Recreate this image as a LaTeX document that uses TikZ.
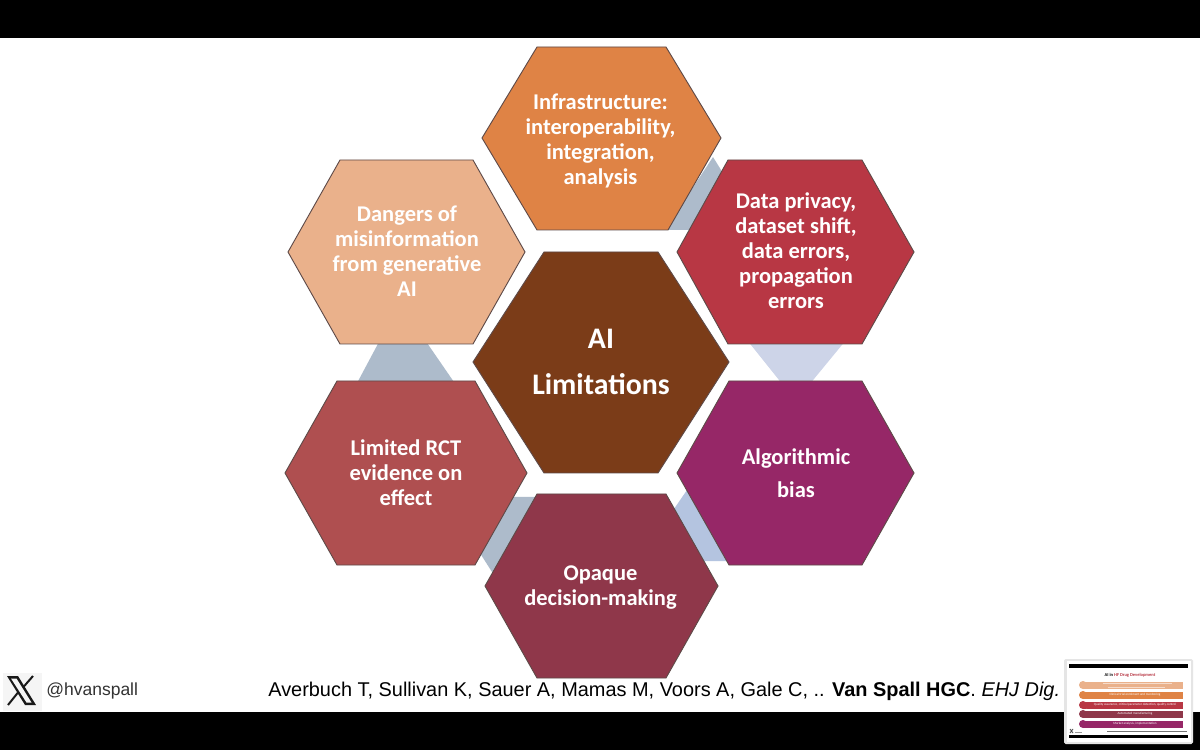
\documentclass[tikz,border=0pt]{standalone}
\usepackage{fontspec}
\setmainfont{Carlito}
\newfontfamily\arialf{Liberation Sans}
\definecolor{cCenter}{HTML}{7B3C18}
\definecolor{cTop}{HTML}{DF8345}
\definecolor{cRU}{HTML}{B83744}
\definecolor{cRL}{HTML}{962767}
\definecolor{cBot}{HTML}{8F374A}
\definecolor{cLL}{HTML}{AF4F50}
\definecolor{cLU}{HTML}{EAB18B}
\definecolor{bandA}{HTML}{ADBBCB}
\definecolor{bandB}{HTML}{CDD4E8}
\definecolor{bandC}{HTML}{B4C4E0}
\definecolor{edgeC}{HTML}{5E4A48}
\tikzset{
  x=0.6pt,y=-0.6pt,
  hex/.style={draw=edgeC,line width=0.55pt},
  lab/.style={text=white,font=\bfseries\fontsize{13.5}{15}\selectfont,align=center,inner sep=0pt},
  bigl/.style={text=white,font=\bfseries\fontsize{17.9}{27.2}\selectfont,align=center,inner sep=0pt},
  tiny/.style={inner sep=0pt,text=white,font=\fontsize{1.95}{2.3}\selectfont},
}
\begin{document}
\begin{tikzpicture}
\useasboundingbox (0,0) rectangle (1200,750);
\fill[white] (0,0) rectangle (1200,750);
\fill[black] (0,0) rectangle (1200,38);
\fill[black] (0,712) rectangle (1200,750);
% bands
\fill[bandA] (713,157) -- (726,178) -- (690,230) -- (665,230) -- cycle;
\fill[bandB] (747,340) -- (846,340) -- (809,385) -- (783,385) -- cycle;
\fill[bandC] (687,490) -- (700,490) -- (740,561) -- (695,561) -- (674,509) -- cycle;
\fill[bandA] (510,497) -- (540,497) -- (500,572) -- (492,572) -- (478,550) -- cycle;
\fill[bandA] (380,340) -- (425,340) -- (456,385) -- (356,385) -- cycle;
% hexagons
\filldraw[hex,fill=cCenter] (473,362)--(544,252)--(658,252)--(729,362)--(658,473)--(544,473)--cycle;
\filldraw[hex,fill=cTop] (482,138)--(537,47)--(666,47)--(721,138)--(668,230)--(537,230)--cycle;
\filldraw[hex,fill=cRU] (677,252)--(728,160)--(862,160)--(914,252)--(862,344)--(728,344)--cycle;
\filldraw[hex,fill=cRL] (677,473)--(729,381)--(862,381)--(914,473)--(862,565)--(729,565)--cycle;
\filldraw[hex,fill=cBot] (485,586)--(537,494)--(666,494)--(718,586)--(666,678)--(537,678)--cycle;
\filldraw[hex,fill=cLL] (285,473)--(337,381)--(475,381)--(527,473)--(475,565)--(337,565)--cycle;
\filldraw[hex,fill=cLU] (288,252)--(340,160)--(473,160)--(525,252)--(473,344)--(340,344)--cycle;
% labels
\node[bigl] (nC) at (601,362) {AI\\Limitations};
\node[lab] (nT) at (600.5,140.5) {Infrastructure:\\interoperability,\\integration,\\analysis};
\node[lab] (nRU) at (796,251) {Data privacy,\\dataset shift,\\data errors,\\propagation\\errors};
\node[lab,font=\bfseries\fontsize{13.5}{20}\selectfont] (nRL) at (796,473) {Algorithmic\\bias};
\node[lab] (nB) at (600.5,587.5) {Opaque\\decision-making};
\node[lab] (nLL) at (406,473) {Limited RCT\\evidence on\\effect};
\node[lab] (nLU) at (407,251) {Dangers of\\misinformation\\from generative\\AI};
% footer
\fill[black!4] (3,673) rectangle (42,711);
\fill[black!90] (7,676) -- (18,676) -- (36,705) -- (25,705) -- cycle;
\fill[black!4] (11,678.5) -- (16.5,678.5) -- (31.5,702.5) -- (26.5,702.5) -- cycle;
\draw[black!90,line width=1.2pt] (33,676) -- (23,687.5) (18,692.5) -- (8,705);
\node[anchor=west,inner sep=0pt,text=black!80,font=\arialf\fontsize{10.5}{12}\selectfont] (hdl) at (46,691) {@hvanspall};
\node[anchor=west,inner sep=0pt,text=black,font=\arialf\fontsize{11.95}{14}\selectfont] (cit) at (268,691) {Averbuch T, Sullivan K, Sauer A, Mamas M, Voors A, Gale C, .. \textbf{Van Spall HGC}. \textit{EHJ Dig.}};
% thumbnail
\fill[black!10,rounded corners=1pt] (1064,659) rectangle (1193,744);
\fill[white] (1067,661) rectangle (1191,742);
\fill[black] (1069,664) rectangle (1188,668);
\fill[black] (1069,735) rectangle (1188,738);
\node[inner sep=0pt,font=\bfseries\fontsize{2.7}{3.2}\selectfont,text=black] (tt) at (1130,675) {AI in \textcolor{cRU}{HF Drug Development}};
\foreach \yy/\cc in {685/cLU,695/cTop,705/cRU,714/cBot,724/cRL}{
  \fill[\cc] (1083,\yy-3.5) rectangle (1183,\yy+3.5);
  \fill[\cc] (1083,\yy) circle (4);
  \draw[white,line width=0.2pt] (1087,\yy-3.5) arc (-60:60:-1) ;
}
\draw[white,opacity=.55,line width=0.5pt] (1103,683.5) -- (1172,683.5) (1108,687) -- (1165,687);
\node[tiny] (b2) at (1135,695) {Clinical trial enrolment and monitoring};
\node[tiny] (b3) at (1135,705) {Quality assurance, critical parameter detection, quality control};
\node[tiny] (b4) at (1135,714) {Automated manufacturing};
\node[tiny] (b5) at (1135,724) {Market analysis, implementation};
\draw[black!55,line width=0.4pt] (1107,731.5) -- (1187,731.5);
\draw[black!70,line width=0.5pt] (1070,729) -- (1073,733) (1073,729) -- (1070,733);
\draw[black!40,line width=0.4pt] (1075,732) -- (1082,732);
\end{tikzpicture}
\end{document}
